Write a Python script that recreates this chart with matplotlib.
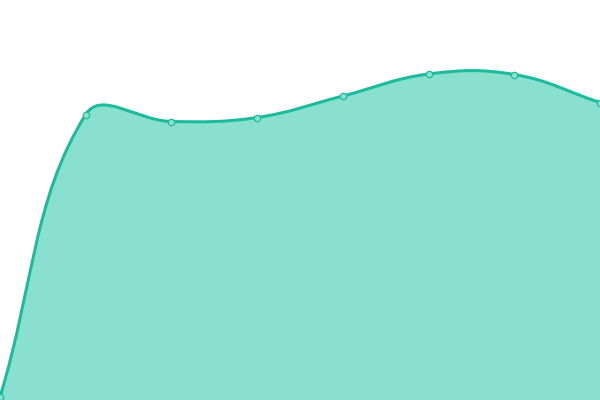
import numpy as np
import matplotlib
matplotlib.use("Agg")
import matplotlib.pyplot as plt
from matplotlib.path import Path
from matplotlib.patches import PathPatch

categories = ["1", "2", "3", "4", "5", "6", "7", "8"]
values = [3, 285.5, 278.5, 282.5, 304, 326, 325.5, 297.5]

LINE = "#1abc9c"
FILL = "#8ae0cf"
TENSION = 0.4

fig = plt.figure(figsize=(6, 4), dpi=100)
ax = fig.add_axes([0, 0, 1, 1])
ax.set_xlim(0, len(categories) - 1)
ax.set_ylim(0, 400)
ax.axis("off")

x = np.arange(len(categories), dtype=float)
y = np.array(values, dtype=float)

# compute spline control points in display space
pts = ax.transData.transform(np.column_stack([x, y]))
n = len(pts)
cp_prev = np.zeros_like(pts)
cp_next = np.zeros_like(pts)
for i in range(n):
    p = pts[i]
    pr = pts[i - 1] if i > 0 else p
    nx = pts[i + 1] if i < n - 1 else p
    d01 = np.hypot(*(p - pr))
    d12 = np.hypot(*(nx - p))
    s = d01 + d12
    fa = TENSION * d01 / s if s else 0
    fb = TENSION * d12 / s if s else 0
    cp_prev[i] = p - fa * (nx - pr)
    cp_next[i] = p + fb * (nx - pr)

verts = [pts[0]]
codes = [Path.MOVETO]
for i in range(n - 1):
    verts += [cp_next[i], cp_prev[i + 1], pts[i + 1]]
    codes += [Path.CURVE4] * 3
inv = ax.transData.inverted()
verts_d = inv.transform(np.array(verts))

line_path = Path(verts_d, codes)
fill_verts = list(verts_d) + [[x[-1], 0], [x[0], 0], verts_d[0]]
fill_codes = codes + [Path.LINETO, Path.LINETO, Path.CLOSEPOLY]
fill_path = Path(fill_verts, fill_codes)

ax.add_patch(PathPatch(fill_path, facecolor=FILL, edgecolor="none", zorder=1))
ax.add_patch(PathPatch(line_path, facecolor="none", edgecolor=LINE, lw=2.2, zorder=2))
ax.plot(x, y, "o", ms=4.6, mfc=FILL, mec=LINE, mew=0.9, zorder=3, clip_on=False)

fig.savefig("out.png", dpi=100)
